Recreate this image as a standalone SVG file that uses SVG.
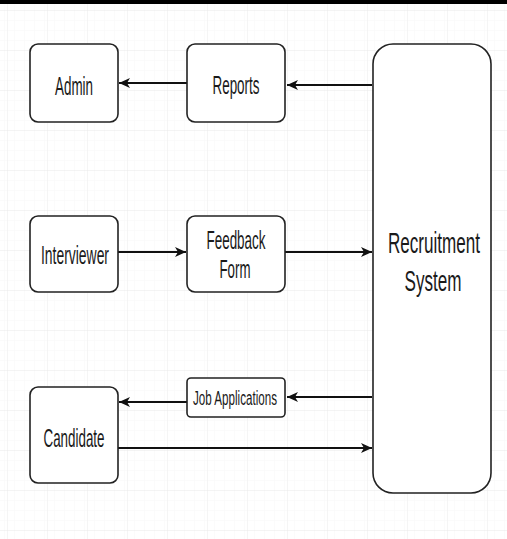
<svg xmlns="http://www.w3.org/2000/svg" width="507" height="539" viewBox="0 0 507 539">
  <defs>
    <pattern id="minor" width="10" height="10" patternUnits="userSpaceOnUse" x="7" y="10">
      <path d="M10 0 L0 0 0 10" fill="none" stroke="#f7f7f7" stroke-width="1"/>
    </pattern>
    <pattern id="major" width="40" height="40" patternUnits="userSpaceOnUse" x="7" y="10">
      <rect width="40" height="40" fill="url(#minor)"/>
      <path d="M40 0 L0 0 0 40" fill="none" stroke="#ebebeb" stroke-width="1"/>
    </pattern>
    <marker id="arrow" viewBox="0 0 12 12" refX="11" refY="6" markerWidth="12" markerHeight="12" markerUnits="userSpaceOnUse" orient="auto">
      <path d="M0 1 L11 6 L0 11 L3 6 Z" fill="#111"/>
    </marker>
  </defs>
  <style>
    .box { fill: #ffffff; stroke: #222222; stroke-width: 1.6; }
    .lbl { font-family: "Liberation Sans", Arial, sans-serif; fill: #1a1a1a; text-anchor: middle; }
    .small { font-size: 25px; }
    .big { font-size: 30px; }
    .tiny { font-size: 20px; }
    .edge { fill: none; stroke: #111; stroke-width: 1.8; marker-end: url(#arrow); }
  </style>
  <rect x="0" y="0" width="507" height="539" fill="#ffffff"/>
  <rect x="0" y="0" width="507" height="539" fill="url(#major)"/>
  <rect x="0" y="0" width="507" height="4" fill="#000000"/>

  <g id="connectors">
    <line class="edge" x1="372" y1="85" x2="287" y2="85"/>
    <line class="edge" x1="187" y1="83" x2="119" y2="83"/>
    <line class="edge" x1="118" y1="252" x2="186" y2="252"/>
    <line class="edge" x1="285" y1="252" x2="372" y2="252"/>
    <line class="edge" x1="372" y1="397" x2="287" y2="397"/>
    <line class="edge" x1="187" y1="402" x2="119" y2="402"/>
    <line class="edge" x1="118" y1="448" x2="372" y2="448"/>
  </g>

  <g id="admin">
    <rect class="box" x="30" y="44" width="88" height="78" rx="8"/>
    <text class="lbl small" x="74" y="95" textLength="38" lengthAdjust="spacingAndGlyphs">Admin</text>
  </g>
  <g id="reports">
    <rect class="box" x="187" y="44" width="98" height="78" rx="8"/>
    <text class="lbl small" x="236" y="94" textLength="47" lengthAdjust="spacingAndGlyphs">Reports</text>
  </g>
  <g id="interviewer">
    <rect class="box" x="30" y="216" width="88" height="76" rx="8"/>
    <text class="lbl small" x="75" y="264" textLength="68" lengthAdjust="spacingAndGlyphs">Interviewer</text>
  </g>
  <g id="feedback-form">
    <rect class="box" x="187" y="216" width="98" height="76" rx="8"/>
    <text class="lbl small" x="236" y="249" textLength="59" lengthAdjust="spacingAndGlyphs">Feedback</text>
    <text class="lbl small" x="235" y="278" textLength="31" lengthAdjust="spacingAndGlyphs">Form</text>
  </g>
  <g id="job-applications">
    <rect class="box" x="187" y="378" width="98" height="39" rx="4"/>
    <text class="lbl tiny" x="235" y="405" textLength="84" lengthAdjust="spacingAndGlyphs">Job Applications</text>
  </g>
  <g id="candidate">
    <rect class="box" x="30" y="387" width="88" height="96" rx="8"/>
    <text class="lbl small" x="74" y="447" textLength="61" lengthAdjust="spacingAndGlyphs">Candidate</text>
  </g>
  <g id="recruitment-system">
    <rect class="box" x="373" y="44" width="118" height="449" rx="20"/>
    <text class="lbl big" transform="translate(434,253) scale(0.57,1)" x="0" y="0">Recruitment</text>
    <text class="lbl big" transform="translate(433,291) scale(0.57,1)" x="0" y="0">System</text>
  </g>
</svg>
